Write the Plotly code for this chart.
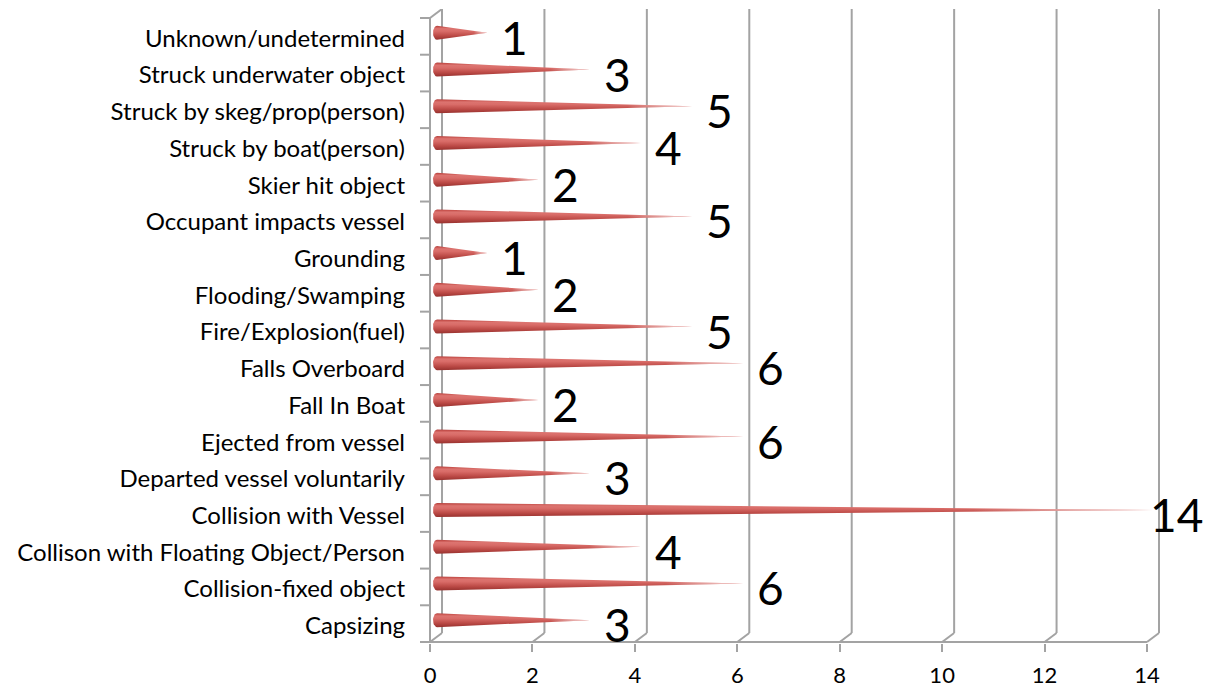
import math
import plotly.graph_objects as go

# ---------------- data ----------------
categories = [
    "Capsizing",
    "Collision-fixed object",
    "Collison with Floating Object/Person",
    "Collision with Vessel",
    "Departed vessel voluntarily",
    "Ejected from vessel",
    "Fall In Boat",
    "Falls Overboard",
    "Fire/Explosion(fuel)",
    "Flooding/Swamping",
    "Grounding",
    "Occupant impacts vessel",
    "Skier hit object",
    "Struck by boat(person)",
    "Struck by skeg/prop(person)",
    "Struck underwater object",
    "Unknown/undetermined",
]
values = [3, 6, 4, 14, 3, 6, 2, 6, 5, 2, 1, 5, 2, 4, 5, 3, 1]
x_ticks = [0, 2, 4, 6, 8, 10, 12, 14]
x_max = 14

# ---------------- geometry (pixels -> data units) ----------------
OFF = 8                             # page body margin
W, H = 1211 - OFF, 689 - OFF
X0_PX, X14_PX = 430 - OFF, 1147 - OFF       # front floor edge
Y_TOP_PX, Y_BOT_PX = 18 - OFF, 642 - OFF    # front category span
L, R, T, B = 414 - OFF, 1170 - OFF, 8 - OFF + 1, 643 - OFF
s = (X14_PX - X0_PX) / x_max       # px per x unit
n = len(categories)
u = (Y_BOT_PX - Y_TOP_PX) / n      # px per category
xmin = (L - X0_PX) / s
xmax = (R - X0_PX) / s
ymax = (n - 0.5) + (Y_TOP_PX - T) / u
ymin = -0.5 - (B - Y_BOT_PX) / u
dxu = 12 / s                        # depth offset
dyu = 9 / u

GRID = "#a3a3a3"
FONT = "Lato, Calibri, Arial, sans-serif"

fig = go.Figure()

# ---------------- 3D frame ----------------
shapes = []
def seg(x0, y0, x1, y1):
    shapes.append(dict(type="line", xref="x", yref="y", x0=x0, y0=y0, x1=x1, y1=y1,
                       line=dict(color=GRID, width=2), layer="below"))

ybot, ytop = -0.5, n - 0.5
for v in x_ticks:
    seg(v, ybot, v + dxu, ybot + dyu)                 # floor diagonal
    seg(v + dxu, ybot + dyu, v + dxu, ytop + dyu)     # back wall gridline
seg(0, ybot, x_max, ybot)                             # floor front edge
seg(0, ybot, 0, ytop)                                 # left wall front edge
seg(0, ytop, dxu, ytop + dyu)                         # left wall top edge
for k in range(n + 1):                                # category tick marks
    seg(-10 / s, k - 0.5, 0, k - 0.5)

# ---------------- cones ----------------
rx = 4 / s
ry = 7 / u
base_cx = 7 / s
for k, (c, v) in enumerate(zip(categories, values)):
    yc = k + 3.5 / u
    tip = v + 6 / s
    xs, ys = [], []
    for i in range(0, 21):
        th = math.pi / 2 + math.pi * i / 20
        xs.append(base_cx + rx * math.cos(th))
        ys.append(yc + ry * math.sin(th))
    xs.append(tip); ys.append(yc)
    xs.append(xs[0]); ys.append(ys[0])
    fig.add_trace(go.Scatter(
        x=xs, y=ys, mode="lines", fill="toself", line=dict(width=0),
        fillgradient=dict(type="vertical", colorscale=[
            [0.0, "#97312e"], [0.3, "#bd4b47"], [0.62, "#d96c68"],
            [0.8, "#dc7470"], [0.92, "#c9544f"], [1.0, "#b0413e"]]),
        hoverinfo="skip", showlegend=False))
    fig.add_trace(go.Scatter(
        x=xs, y=ys, mode="lines", fill="toself", line=dict(width=0),
        fillgradient=dict(type="horizontal", colorscale=[
            [0.0, "rgba(255,255,255,0)"], [0.75, "rgba(255,255,255,0)"],
            [1.0, "rgba(255,235,235,0.85)"]]),
        hoverinfo="skip", showlegend=False))

# ---------------- value labels ----------------
annotations = []
for k, v in enumerate(values):
    annotations.append(dict(
        x=v, y=k, xref="x", yref="y", text=str(v), showarrow=False,
        xanchor="left", yanchor="middle", xshift=(18 if v < x_max else 1), yshift=-1,
        font=dict(family=FONT, size=46, color="#000000")))

fig.update_layout(
    width=W, height=H,
    margin=dict(l=L, r=W - R, t=T, b=H - B, autoexpand=False),
    paper_bgcolor="white", plot_bgcolor="white",
    shapes=shapes, annotations=annotations,
    showlegend=False,
    xaxis=dict(range=[xmin, xmax], tickvals=x_ticks, ticktext=[str(t) for t in x_ticks],
               showgrid=False, zeroline=False, showline=False,
               ticks="outside", ticklen=8, tickwidth=2, tickcolor=GRID,
               ticklabelstandoff=5,
               tickfont=dict(family=FONT, size=22, color="#000000")),
    yaxis=dict(range=[ymin, ymax], tickvals=[k - 2 / u for k in range(n)], ticktext=categories,
               showgrid=False, zeroline=False, showline=False, ticks="",
               ticklabelstandoff=8,
               tickfont=dict(family=FONT, size=24, color="#000000")),
)

fig.write_html("out.html")
